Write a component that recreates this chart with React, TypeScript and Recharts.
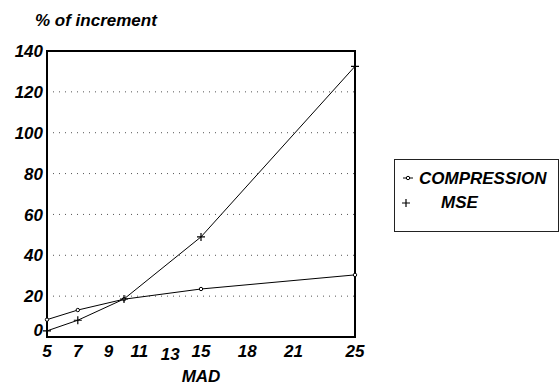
import {
  LineChart, Line, XAxis, YAxis, CartesianGrid, ReferenceArea,
} from 'recharts'

const mad = [5, 7, 10, 15, 25]
const compression = [8.5, 13.2, 18.5, 23.5, 30.4]
const mse = [3, 8.2, 18.6, 49, 132.5]
const xTicks = [5, 7, 9, 11, 13, 15, 18, 21, 25]
const yTicks = [0, 20, 40, 60, 80, 100, 120, 140]

const data = mad.map((m, i) => ({ mad: m, COMPRESSION: compression[i], MSE: mse[i] }))

const FONT = "'Liberation Sans', Arial, sans-serif"
const textStyle = { fontFamily: FONT, fontWeight: 700, fontStyle: 'italic' as const }

const PlusDot = ({ cx, cy }: any) => {
  if (cx == null || cy == null) return null
  return (
    <path
      d={`M${cx - 4},${cy} L${cx + 4},${cy} M${cx},${cy - 4} L${cx},${cy + 4}`}
      stroke="#000"
      strokeWidth={1.2}
      fill="none"
    />
  )
}

// legend drawn next to the chart, like the original
const LegendBox = () => (
  <div
    style={{
      position: 'absolute', left: 394, top: 159, width: 163, height: 71,
      border: '1px solid #222', background: '#fff',
    }}
  >
    <svg width={163} height={71} style={{ position: 'absolute', left: 0, top: 0 }}>
      <line x1={8} x2={18} y1={18} y2={18} stroke="#000" strokeWidth={1} />
      <circle cx={13} cy={18} r={1.7} fill="#fff" stroke="#000" strokeWidth={1} />
      <text x={24} y={24} fontSize={17} {...textStyle} fill="#000">COMPRESSION</text>
      <path d="M7,43 L15,43 M11,39 L11,47" stroke="#000" strokeWidth={1.2} />
      <text x={46} y={48} fontSize={17} {...textStyle} fill="#000">MSE</text>
    </svg>
  </div>
)

const YTick = ({ x, y, payload }: any) => (
  <text
    x={x}
    y={payload.value === 0 ? y - 7 : y}
    dy="0.36em"
    textAnchor="end"
    fontSize={17}
    fill="#000"
    {...textStyle}
  >
    {payload.value}
  </text>
)

const XTick = ({ x, y, payload }: any) => (
  <text
    x={x}
    y={payload.value === 13 ? y + 3 : y}
    dy="0.71em"
    textAnchor="middle"
    fontSize={17}
    fill="#000"
    {...textStyle}
  >
    {payload.value}
  </text>
)

export default function App() {
  return (
    <div style={{ position: 'absolute', left: 0, top: 0, width: 559, height: 385, background: '#fff' }}>
      <div
        style={{
          position: 'absolute', left: 35, top: 11, fontSize: 17, color: '#000', ...textStyle,
        }}
      >
        % of increment
      </div>
      <LineChart
        width={559}
        height={385}
        data={data}
        margin={{ top: 51, right: 204, bottom: 0, left: 0 }}
      >
        <CartesianGrid
          horizontal
          vertical={false}
          stroke="#555"
          strokeDasharray="1 5"
          horizontalValues={[20, 40, 60, 80, 100, 120]}
        />
        <XAxis
          dataKey="mad"
          type="number"
          domain={[5, 25]}
          ticks={xTicks}
          interval={0}
          axisLine={false}
          tickLine={false}
          tickSize={0}
          tickMargin={8}
          height={48}
          tick={<XTick />}
          label={{
            value: 'MAD', position: 'insideBottom', offset: 3,
            style: { ...textStyle, fontSize: 17, fill: '#000' },
          }}
        />
        <YAxis
          type="number"
          domain={[0, 140]}
          ticks={yTicks}
          interval={0}
          axisLine={false}
          tickLine={false}
          tickSize={0}
          tickMargin={4}
          width={47}
          tick={<YTick />}
        />
        <ReferenceArea
          x1={5} x2={25} y1={0} y2={140}
          fill="none" stroke="#000" strokeWidth={2} ifOverflow="visible"
        />
        <Line
          dataKey="COMPRESSION"
          type="linear"
          stroke="#000"
          strokeWidth={1}
          dot={{ r: 1.7, fill: '#fff', stroke: '#000', strokeWidth: 1 }}
          activeDot={false}
          isAnimationActive={false}
        />
        <Line
          dataKey="MSE"
          type="linear"
          stroke="#000"
          strokeWidth={1}
          dot={<PlusDot />}
          activeDot={false}
          isAnimationActive={false}
        />
      </LineChart>
      <LegendBox />
    </div>
  )
}
